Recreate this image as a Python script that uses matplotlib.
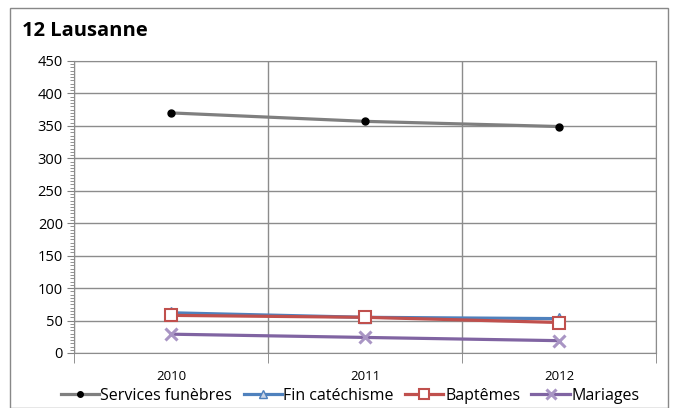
import matplotlib
matplotlib.use("Agg")
import matplotlib.pyplot as plt
from matplotlib.ticker import MultipleLocator, FixedLocator

years = ["2010", "2011", "2012"]
services = [370, 357, 349]
catechisme = [62, 55, 53]
baptemes = [58, 55, 47]
mariages = [29, 24, 19]

plt.rcParams['font.family'] = ['Open Sans', 'DejaVu Sans']

fig = plt.figure(figsize=(6.75, 4.08), dpi=100)
ax = fig.add_axes([74/675, 1-353/408, (656-74)/675, (353-61)/408])

x = list(range(len(years)))
ax.plot(x, services, color='#7f7f7f', lw=2.3, marker='o', ms=5, mfc='black', mec='black', label='Services funèbres', zorder=3)
ax.plot(x, catechisme, color='#4F81BD', lw=2.3, marker='^', ms=8, mfc='#c8d3e6', mec='#4F81BD', label='Fin catéchisme', zorder=3)
ax.plot(x, baptemes, color='#C0504D', lw=2.3, marker='s', ms=9, mfc='white', mec='#C0504D', mew=1.5, label='Baptêmes', zorder=4)
ax.plot(x, mariages, color='#8064A2', lw=2.3, marker='x', ms=9, mec='#a995c4', mew=2.2, label='Mariages', zorder=3)

ax.set_xlim(-0.5, 2.5)
ax.set_ylim(0, 450)
ax.yaxis.set_major_locator(MultipleLocator(50))
ax.yaxis.set_minor_locator(MultipleLocator(5))
ax.xaxis.set_major_locator(FixedLocator(x))
ax.xaxis.set_minor_locator(FixedLocator([-0.5, 0.5, 1.5, 2.5]))
ax.set_xticks(x)
ax.set_xticklabels(years, fontsize=9.5)
ax.tick_params(axis='x', which='major', length=0, pad=12)
ax.tick_params(axis='x', which='minor', length=7, color='#808080', direction='out')
ax.tick_params(axis='y', which='major', length=5, color='#808080', labelsize=10.5, pad=3)
ax.tick_params(axis='y', which='minor', length=3, color='#808080')
ax.grid(True, axis='y', which='major', color='#8c8c8c', lw=1)
ax.grid(True, axis='x', which='minor', color='#8c8c8c', lw=1)
for s in ax.spines.values():
    s.set_color('#8c8c8c')

fig.text(22/675, 1-31/408, '12 Lausanne', fontsize=14.5, fontweight='bold', va='center', ha='left')

leg = fig.legend(loc='center', bbox_to_anchor=(350/675, 1-396/408), ncol=4, frameon=False,
                 fontsize=11.5, handlelength=2.4, handletextpad=0.1, columnspacing=0.7,
                 markerscale=0.8)

border = plt.Rectangle((10/675, 0), (668-10)/675, 1-8/408, transform=fig.transFigure,
                       fill=False, edgecolor='#888888', lw=1)
fig.add_artist(border)

fig.savefig('out.png', dpi=100)
